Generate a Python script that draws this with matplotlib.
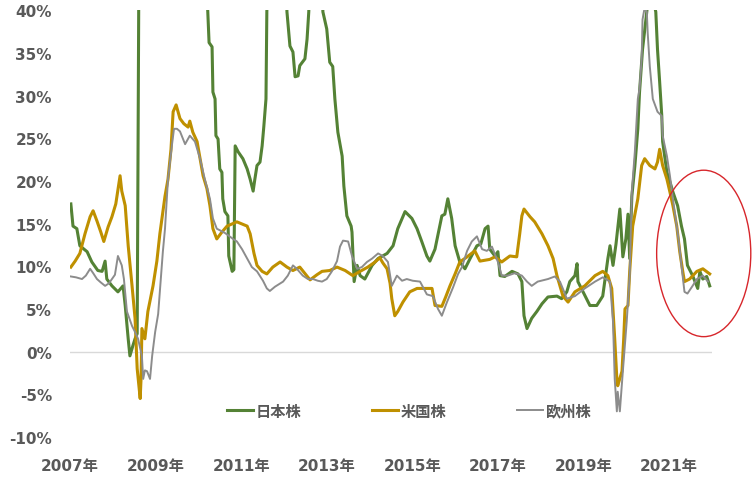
import matplotlib
matplotlib.use("Agg")
import matplotlib.pyplot as plt
from matplotlib.patches import Ellipse

plt.rcParams['font.family'] = ['DejaVu Sans', 'Noto Sans CJK JP']

# ---- data (decimal year, percent) ----
jp_t = [2007.02, 2007.07, 2007.16, 2007.23, 2007.40, 2007.51, 2007.65, 2007.75, 2007.82, 2007.86,
        2007.98, 2008.12, 2008.24, 2008.29, 2008.36, 2008.40, 2008.47, 2008.52, 2008.57, 2008.59,
        2008.61, 2009.30, 2010.00, 2010.21, 2010.22, 2010.25, 2010.32, 2010.34, 2010.39, 2010.41,
        2010.46, 2010.50, 2010.55, 2010.57, 2010.62, 2010.69, 2010.71, 2010.79, 2010.83, 2010.86,
        2010.93, 2011.04, 2011.14, 2011.21, 2011.28, 2011.32, 2011.37, 2011.44, 2011.49, 2011.53,
        2011.58, 2011.60, 2011.63, 2011.85, 2012.06, 2012.07, 2012.14, 2012.21, 2012.26, 2012.33,
        2012.37, 2012.49, 2012.54, 2012.58, 2012.61, 2012.75, 2012.89, 2012.91, 2013.00, 2013.07,
        2013.14, 2013.19, 2013.26, 2013.36, 2013.40, 2013.47, 2013.57, 2013.59, 2013.64, 2013.71,
        2013.78, 2013.89, 2014.06, 2014.20, 2014.41, 2014.55, 2014.66, 2014.83, 2014.99, 2015.11,
        2015.22, 2015.34, 2015.41, 2015.53, 2015.69, 2015.76, 2015.83, 2015.92, 2016.00, 2016.11,
        2016.23, 2016.35, 2016.51, 2016.60, 2016.70, 2016.77, 2016.81, 2016.93, 2017.00, 2017.05,
        2017.16, 2017.33, 2017.47, 2017.56, 2017.61, 2017.68, 2017.79, 2017.91, 2018.03, 2018.17,
        2018.38, 2018.49, 2018.61, 2018.68, 2018.80, 2018.85, 2018.87, 2018.99, 2019.15, 2019.31,
        2019.45, 2019.57, 2019.62, 2019.69, 2019.76, 2019.85, 2019.92, 2019.99, 2020.04, 2020.08,
        2020.13, 2020.20, 2020.27, 2020.31, 2020.38, 2020.48, 2020.55, 2020.69, 2020.73, 2020.78,
        2020.83, 2020.85, 2020.95, 2021.02, 2021.09, 2021.20, 2021.29, 2021.36, 2021.43, 2021.55,
        2021.67, 2021.72, 2021.79, 2021.88, 2021.95]
jp_v = [17.3, 14.7, 14.4, 12.4, 11.7, 10.5, 9.5, 9.4, 10.6, 8.5,
        7.7, 7.0, 7.7, 5.4, 1.5, -0.5, 0.7, 1.5, 2.1, 24.1,
        45.0, 80.0, 60.0, 41.0, 39.8, 36.2, 35.7, 30.4, 29.6, 25.3,
        24.9, 21.4, 21.0, 17.9, 16.4, 15.9, 11.2, 9.4, 9.6, 24.1,
        23.4, 22.6, 21.4, 20.2, 18.8, 20.2, 21.8, 22.2, 24.1, 26.4,
        29.6, 39.8, 45.0, 55.0, 42.0, 39.8, 35.8, 35.1, 32.2, 32.3,
        33.5, 34.3, 36.6, 39.8, 45.0, 50.0, 44.0, 39.8, 37.8, 33.9,
        33.4, 29.6, 25.7, 22.9, 19.4, 15.9, 14.7, 14.0, 8.2, 10.1,
        8.9, 8.5, 10.1, 10.9, 11.5, 12.4, 14.4, 16.4, 15.6, 14.4,
        12.9, 11.2, 10.6, 12.0, 15.9, 16.1, 17.9, 15.6, 12.4, 10.5,
        9.7, 10.9, 12.4, 12.6, 14.4, 14.7, 12.0, 11.2, 11.7, 8.9,
        8.8, 9.4, 9.1, 8.2, 4.2, 2.7, 3.9, 4.7, 5.6, 6.4,
        6.5, 6.2, 7.0, 8.2, 8.9, 10.3, 8.2, 7.0, 5.4, 5.4,
        6.5, 10.9, 12.4, 10.1, 12.6, 16.7, 11.1, 13.2, 16.1, 10.9,
        18.2, 21.7, 26.1, 30.4, 35.4, 39.8, 43.0, 39.8, 35.4, 31.6,
        27.6, 24.6, 21.0, 19.9, 18.7, 17.1, 14.7, 13.2, 10.1, 8.9,
        7.4, 9.4, 8.5, 8.8, 7.7]

us_t = [2007.02, 2007.12, 2007.23, 2007.35, 2007.47, 2007.54, 2007.63, 2007.72, 2007.79, 2007.89,
        2007.98, 2008.07, 2008.17, 2008.21, 2008.29, 2008.36, 2008.45, 2008.52, 2008.57, 2008.64,
        2008.66, 2008.68, 2008.75, 2008.82, 2008.94, 2009.03, 2009.10, 2009.22, 2009.29, 2009.36,
        2009.41, 2009.48, 2009.57, 2009.66, 2009.76, 2009.80, 2009.87, 2009.97, 2010.04, 2010.11,
        2010.20, 2010.27, 2010.34, 2010.43, 2010.55, 2010.67, 2010.90, 2011.14, 2011.21, 2011.30,
        2011.37, 2011.49, 2011.60, 2011.74, 2011.91, 2012.07, 2012.21, 2012.37, 2012.61, 2012.77,
        2012.89, 2013.07, 2013.24, 2013.43, 2013.61, 2013.78, 2013.96, 2014.13, 2014.24, 2014.31,
        2014.41, 2014.48, 2014.52, 2014.59, 2014.66, 2014.78, 2014.94, 2015.11, 2015.25, 2015.46,
        2015.53, 2015.69, 2015.78, 2015.88, 2016.00, 2016.11, 2016.28, 2016.46, 2016.58, 2016.81,
        2016.93, 2017.09, 2017.28, 2017.44, 2017.51, 2017.56, 2017.61, 2017.75, 2017.86, 2018.03,
        2018.17, 2018.29, 2018.38, 2018.52, 2018.64, 2018.80, 2019.03, 2019.27, 2019.45, 2019.57,
        2019.66, 2019.73, 2019.78, 2019.80, 2019.90, 2019.94, 2019.97, 2020.04, 2020.08, 2020.15,
        2020.27, 2020.36, 2020.43, 2020.55, 2020.67, 2020.73, 2020.78, 2020.85, 2020.95, 2021.02,
        2021.09, 2021.18, 2021.25, 2021.32, 2021.36, 2021.48, 2021.65, 2021.79, 2021.95]
us_v = [9.9, 10.6, 11.5, 13.8, 15.8, 16.5, 15.3, 14.0, 12.9, 14.6,
        15.8, 17.3, 20.6, 18.8, 17.1, 12.4, 7.7, 3.9, -2.0, -5.5,
        -3.2, 2.7, 1.5, 4.7, 7.7, 10.6, 13.8, 18.2, 20.2, 23.7,
        28.1, 28.9, 27.3, 26.7, 26.3, 27.0, 25.7, 24.6, 22.6, 20.6,
        19.1, 17.1, 14.4, 13.2, 14.0, 14.7, 15.2, 14.7, 13.8, 11.5,
        10.1, 9.4, 9.1, 9.9, 10.5, 9.9, 9.5, 9.9, 8.4, 9.0,
        9.4, 9.5, 9.9, 9.5, 8.9, 9.4, 9.9, 10.5, 11.0, 10.4,
        9.7, 8.0, 6.2, 4.2, 4.7, 5.8, 7.0, 7.4, 7.4, 7.4,
        5.4, 5.3, 6.4, 7.7, 9.1, 10.5, 11.1, 11.8, 10.6, 10.8,
        11.1, 10.5, 11.2, 11.1, 13.8, 15.9, 16.7, 15.8, 15.2, 13.8,
        12.4, 10.9, 8.9, 6.5, 5.8, 7.0, 7.7, 8.9, 9.4, 8.9,
        7.4, 1.5, -3.2, -4.0, -2.3, 1.5, 5.0, 5.4, 9.4, 14.7,
        17.9, 21.8, 22.6, 21.8, 21.4, 22.2, 23.7, 21.8, 20.2, 18.7,
        17.1, 14.7, 11.7, 9.4, 8.2, 8.5, 9.4, 9.7, 9.1]

eu_t = [2007.02, 2007.14, 2007.28, 2007.37, 2007.47, 2007.54, 2007.63, 2007.72, 2007.82, 2007.91,
        2007.98, 2008.05, 2008.12, 2008.17, 2008.21, 2008.26, 2008.33, 2008.45, 2008.52, 2008.59,
        2008.68, 2008.71, 2008.75, 2008.80, 2008.87, 2008.92, 2008.99, 2009.06, 2009.10, 2009.17,
        2009.22, 2009.29, 2009.38, 2009.43, 2009.50, 2009.57, 2009.69, 2009.80, 2009.92, 2010.04,
        2010.15, 2010.27, 2010.34, 2010.43, 2010.62, 2010.81, 2010.90, 2011.02, 2011.14, 2011.25,
        2011.37, 2011.51, 2011.60, 2011.67, 2011.79, 2011.98, 2012.09, 2012.21, 2012.30, 2012.44,
        2012.56, 2012.68, 2012.79, 2012.89, 2013.00, 2013.12, 2013.24, 2013.31, 2013.38, 2013.50,
        2013.59, 2013.71, 2013.82, 2013.94, 2014.06, 2014.20, 2014.31, 2014.43, 2014.52, 2014.64,
        2014.76, 2014.87, 2015.01, 2015.18, 2015.34, 2015.48, 2015.60, 2015.69, 2015.81, 2015.95,
        2016.07, 2016.16, 2016.28, 2016.39, 2016.51, 2016.63, 2016.74, 2016.86, 2017.00, 2017.09,
        2017.23, 2017.40, 2017.56, 2017.68, 2017.79, 2017.93, 2018.17, 2018.33, 2018.45, 2018.54,
        2018.61, 2018.80, 2019.03, 2019.27, 2019.45, 2019.62, 2019.69, 2019.73, 2019.78, 2019.80,
        2019.85, 2019.92, 2020.01, 2020.08, 2020.13, 2020.20, 2020.27, 2020.31, 2020.36, 2020.38,
        2020.43, 2020.48, 2020.50, 2020.55, 2020.62, 2020.73, 2020.83, 2020.85, 2020.95, 2021.02,
        2021.09, 2021.18, 2021.22, 2021.29, 2021.36, 2021.43, 2021.55, 2021.65, 2021.79, 2021.91]
eu_v = [8.8, 8.7, 8.5, 8.9, 9.7, 9.2, 8.5, 8.1, 7.7, 8.0,
        8.5, 9.0, 11.2, 10.6, 10.1, 8.5, 4.7, 3.0, 2.3, 1.5,
        -0.5, -3.2, -2.2, -2.3, -3.2, -0.5, 2.3, 4.4, 7.0, 11.7,
        14.4, 20.2, 24.1, 26.1, 26.1, 25.8, 24.3, 25.3, 24.6, 22.6,
        20.2, 17.9, 15.6, 14.4, 13.9, 13.2, 12.9, 12.0, 10.9, 9.9,
        9.4, 8.3, 7.4, 7.1, 7.6, 8.2, 8.9, 10.1, 9.7, 8.9,
        8.5, 8.5, 8.3, 8.2, 8.5, 9.4, 10.6, 12.3, 13.0, 12.9,
        11.2, 9.7, 9.9, 10.5, 10.9, 11.5, 11.2, 10.5, 7.7, 8.9,
        8.3, 8.5, 8.3, 8.2, 6.7, 6.5, 5.0, 4.2, 5.8, 7.5,
        9.1, 9.9, 11.8, 12.9, 13.5, 12.0, 11.8, 12.3, 10.5, 8.9,
        8.9, 9.2, 8.9, 8.2, 7.7, 8.2, 8.5, 8.8, 8.2, 7.1,
        6.2, 6.5, 7.4, 8.2, 8.7, 8.2, 3.5, -3.2, -7.0, -4.7,
        -7.0, -2.3, 3.5, 8.9, 18.7, 23.4, 29.6, 30.8, 34.3, 38.9,
        40.3, 39.8, 37.4, 33.4, 29.6, 28.1, 27.6, 25.3, 22.9, 20.6,
        17.9, 14.7, 13.2, 10.1, 7.0, 6.8, 7.7, 8.5, 8.9, 8.2]

series_names = ['日本株', '米国株', '欧州株']
year_ticks = [2007, 2009, 2011, 2013, 2015, 2017, 2019, 2021]
y_ticks = [-10, -5, 0, 5, 10, 15, 20, 25, 30, 35, 40]

# ---- drawing ----
fig = plt.figure(figsize=(7.56, 4.85), dpi=100)
ax = fig.add_axes([0.0926, 0.097, 0.849, 0.880])

txt = '#595959'
ax.axhline(0, color='#d9d9d9', lw=1.0, zorder=1)
ax.plot(jp_t, jp_v, color='#548235', lw=2.2, label=series_names[0], zorder=3)
ax.plot(us_t, us_v, color='#BF9000', lw=2.2, label=series_names[1], zorder=4)
ax.plot(eu_t, eu_v, color='#8C8C8C', lw=1.4, label=series_names[2], zorder=5)

ax.set_xlim(2007, 2022)
ax.set_ylim(-10, 40)
ax.set_xticks(year_ticks)
ax.set_xticklabels([f'{y}年' for y in year_ticks])
ax.set_yticks(y_ticks)
ax.set_yticklabels([f'{v}%' for v in y_ticks])
for s in ax.spines.values():
    s.set_visible(False)
ax.tick_params(axis='both', length=0, labelsize=11, labelcolor=txt)
ax.tick_params(axis='y', pad=13)
ax.tick_params(axis='x', pad=15)
for lab in ax.get_xticklabels() + ax.get_yticklabels():
    lab.set_fontweight('bold')

leg = fig.legend(loc='center', bbox_to_anchor=(0.541, 0.150), ncol=3, frameon=False,
                 handlelength=1.7, handletextpad=0.2, columnspacing=4.6,
                 prop={'size': 11, 'weight': 'bold'})
for t in leg.get_texts():
    t.set_color(txt)

ell = Ellipse((2021.81, 11.5), width=2.2, height=19.5, fill=False,
              edgecolor='#D7262B', lw=1.0, clip_on=False, zorder=6)
ax.add_patch(ell)

fig.savefig('out.png', dpi=100)
